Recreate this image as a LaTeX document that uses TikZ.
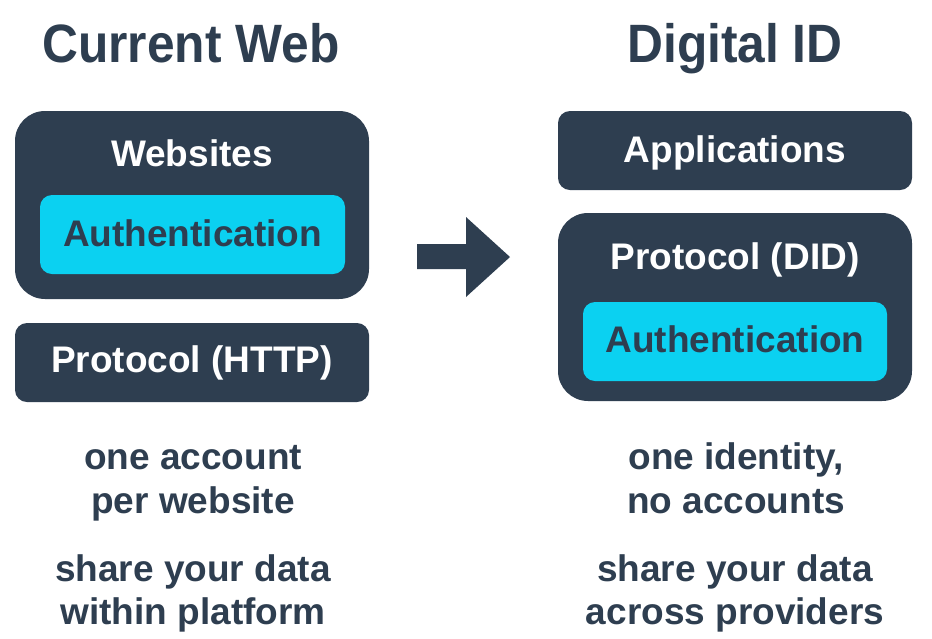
\documentclass[tikz,border=0pt]{standalone}
\usepackage{fontspec}
\setmainfont{Liberation Sans}
\newfontfamily\headfont[FakeStretch=0.92]{Liberation Sans}
\definecolor{navy}{HTML}{2E3E50}
\definecolor{cyanbox}{HTML}{0BD1F1}
\begin{document}
\begin{tikzpicture}[x=1pt,y=-1pt,
  panel/.style={fill=navy, draw=none, rounded corners=30pt, inner sep=0pt, minimum width=354pt, minimum height=188pt},
  bar/.style={fill=navy, draw=none, rounded corners=12pt, inner sep=0pt, minimum width=354pt, minimum height=79pt},
  authbox/.style={fill=cyanbox, draw=none, rounded corners=12pt, inner sep=0pt, minimum height=79pt},
  lbl/.style={font=\fontsize{37}{44}\selectfont\bfseries, inner sep=0pt, anchor=base},
  wlbl/.style={lbl, text=white},
  dlbl/.style={lbl, text=navy},
  head/.style={font=\headfont\fontsize{54}{60}\selectfont\bfseries, text=navy, inner sep=0pt, anchor=base},
]
\useasboundingbox[fill=white] (0,0) rectangle (932,638);

% headings
\node[head] (hcur) at (191,62) {Current Web};
\node[head] (hdid) at (735,62) {Digital ID};

% left column
\node[panel] (webpanel) at (192,205) {};
\node[authbox, minimum width=305pt] (authL) at (192.5,234.5) {};
\node[wlbl] (websites) at (192,166) {Websites};
\node[dlbl] (authLtxt) at (192.5,246) {Authentication};
\node[bar] (http) at (192,362.5) {};
\node[wlbl] (httptxt) at (192,372.5) {Protocol (HTTP)};

% right column
\node[bar] (apps) at (735,150.5) {};
\node[wlbl] (appstxt) at (735,162.5) {Applications};
\node[panel] (didpanel) at (735,307) {};
\node[wlbl] (didtxt) at (735,269) {Protocol (DID)};
\node[authbox, minimum width=304pt] (authR) at (735,341.5) {};
\node[dlbl] (authRtxt) at (735,352) {Authentication};

% arrow
\fill[navy] (417,244) -- (466,244) -- (466,217) -- (510,257) -- (466,297) -- (466,269) -- (417,269) -- cycle;

% bottom texts
\node[dlbl] (l1) at (193,469) {one account};
\node[dlbl] (l2) at (193,513) {per website};
\node[dlbl] (l3) at (193,581) {share your data};
\node[dlbl] (l4) at (193,624) {within platform};
\node[dlbl] (r1) at (736,469) {one identity,};
\node[dlbl] (r2) at (736,513) {no accounts};
\node[dlbl] (r3) at (735,581) {share your data};
\node[dlbl] (r4) at (735,624) {across providers};
\end{tikzpicture}
\end{document}
